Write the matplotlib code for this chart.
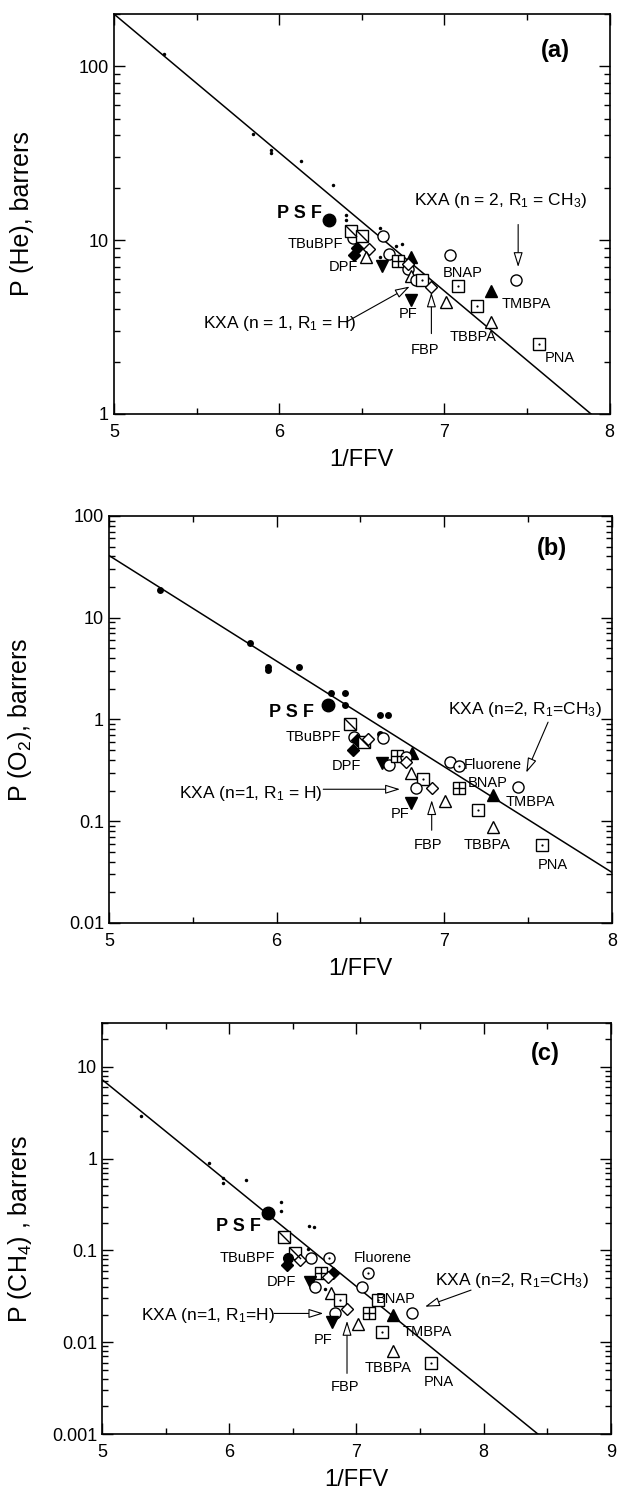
import numpy as np
import matplotlib
matplotlib.use("Agg")
import matplotlib.pyplot as plt
from matplotlib.path import Path
from matplotlib.ticker import MultipleLocator, LogLocator, FuncFormatter, NullFormatter

plt.rcParams['font.family'] = ['Liberation Sans', 'DejaVu Sans']
plt.rcParams['mathtext.default'] = 'regular'

# ---------------- data ----------------
# panel (a): He
he_x = [5.305, 5.842, 5.95, 5.95, 6.134, 6.327, 6.403, 6.403, 6.613, 6.706, 6.742, 6.61,
        6.303, 6.445, 6.432, 6.504, 6.468, 6.451, 6.544, 6.523, 6.63, 6.666, 6.623, 6.718,
        6.80, 6.778, 6.778, 6.80, 6.826, 6.862, 6.921, 6.80, 7.01, 7.036, 7.083, 7.20,
        7.282, 7.43, 7.282, 7.573]
he_y = [117, 40.9, 32.8, 31.7, 28.6, 20.8, 13.9, 13.1, 11.7, 9.28, 9.45, 8.0,
        13.1, 10.3, 11.3, 10.6, 9.0, 8.25, 8.9, 7.96, 10.5, 8.3, 7.13, 7.55,
        7.96, 6.8, 7.3, 6.25, 5.86, 5.9, 5.41, 4.54, 4.4, 8.2, 5.43, 4.16,
        5.13, 5.93, 3.39, 2.52]
he_kind = ['dot'] * 12 + ['big', 'circ', 'sqd', 'sqd', 'dfill', 'dfill', 'dopen', 'tri',
           'circ', 'circ', 'tdown', 'sqp', 'tup', 'circ', 'dopen', 'tri', 'circ', 'sqdot',
           'dopen', 'tdown', 'tri', 'circ', 'sqdot', 'sqdot', 'tup', 'circ', 'tri', 'sqdot']
he_fit = [2.301, -0.797]  # log10 P = a + b*(x-5)

# panel (b): O2
o2_x = [5.306, 5.842, 5.951, 5.951, 6.132, 6.325, 6.409, 6.409, 6.619, 6.666, 6.619,
        6.308, 6.435, 6.461, 6.478, 6.454, 6.52, 6.545, 6.635, 6.626, 6.673, 6.72,
        6.807, 6.77, 6.772, 6.80, 6.871, 6.833, 6.925, 6.80, 7.007, 7.035, 7.09,
        7.09, 7.289, 7.437, 7.202, 7.289, 7.584]
o2_y = [18.7, 5.6, 3.3, 3.08, 3.3, 1.8, 1.8, 1.39, 1.1, 1.1, 0.72,
        1.39, 0.91, 0.67, 0.63, 0.50, 0.6, 0.64, 0.66, 0.37, 0.36, 0.44,
        0.467, 0.43, 0.38, 0.30, 0.26, 0.21, 0.21, 0.152, 0.159, 0.38, 0.345,
        0.21, 0.18, 0.215, 0.13, 0.088, 0.059]
o2_kind = ['dot'] * 11 + ['big', 'sqd', 'circ', 'dfill', 'dfill', 'sqd', 'dopen', 'circ',
           'tdown', 'circ', 'sqp', 'tup', 'circ', 'dopen', 'tri', 'sqdot', 'circ', 'dopen',
           'tdown', 'tri', 'circ', 'circdot', 'sqp', 'tup', 'circ', 'sqdot', 'tri', 'sqdot']
o2_fit = [1.611, -1.038]

# panel (c): CH4
ch4_x = [5.307, 5.842, 5.95, 5.95, 6.133, 6.406, 6.406, 6.625, 6.669, 6.62, 6.755,
         6.307, 6.43, 6.517, 6.461, 6.455, 6.554, 6.641, 6.786, 6.718, 6.817, 6.777,
         6.638, 6.672, 6.802, 6.87, 6.833, 6.926, 6.811, 7.012, 7.09, 7.043, 7.173,
         7.096, 7.291, 7.437, 7.198, 7.291, 7.585]
ch4_y = [2.92, 0.90, 0.61, 0.54, 0.58, 0.34, 0.27, 0.187, 0.178, 0.105, 0.0376,
         0.253, 0.139, 0.095, 0.082, 0.070, 0.0785, 0.082, 0.083, 0.057, 0.0575, 0.051,
         0.0456, 0.0395, 0.034, 0.029, 0.021, 0.0228, 0.0167, 0.016, 0.057, 0.0395, 0.0288,
         0.021, 0.0198, 0.021, 0.0128, 0.008, 0.0059]
ch4_kind = ['dot'] * 11 + ['big', 'sqd', 'sqd', 'fcirc', 'dfill', 'dopen', 'circ', 'circdot',
            'sqp', 'dfill', 'dopen', 'tdown', 'circ', 'tri', 'sqdot', 'circ', 'dopen', 'tdown',
            'tri', 'circdot', 'circ', 'sqdot', 'sqp', 'tup', 'circ', 'sqdot', 'tri', 'sqdot']
ch4_fit = [0.862, -1.127]

# polymer labels: (text, x, y)
he_labels = [("TBuBPF", 6.217, 9.48), ("DPF", 6.389, 6.98), ("PF", 6.783, 3.78),
             ("FBP", 6.885, 2.33), ("BNAP", 7.112, 6.46), ("TMBPA", 7.494, 4.31),
             ("TBBPA", 7.174, 2.78), ("PNA", 7.697, 2.09)]
o2_labels = [("TBuBPF", 6.219, 0.673), ("DPF", 6.419, 0.345), ("PF", 6.736, 0.119),
             ("FBP", 6.901, 0.0587), ("Fluorene", 7.289, 0.358), ("BNAP", 7.259, 0.24),
             ("TMBPA", 7.513, 0.155), ("TBBPA", 7.254, 0.0587), ("PNA", 7.649, 0.0375)]
ch4_labels = [("TBuBPF", 6.146, 0.0818), ("DPF", 6.409, 0.0456), ("PF", 6.74, 0.0106),
              ("FBP", 6.91, 0.00327), ("Fluorene", 7.204, 0.0832), ("BNAP", 7.307, 0.0295),
              ("TMBPA", 7.554, 0.013), ("TBBPA", 7.251, 0.00519), ("PNA", 7.647, 0.00372)]
# KXA labels: (text, x, y)
he_kxa = [("KXA (n = 2, R$_1$ = CH$_3$)", 7.339, 16.8), ("KXA (n = 1, R$_1$ = H)", 6.0, 3.31)]
o2_kxa = [("KXA (n=2, R$_1$=CH$_3$)", 7.478, 1.26), ("KXA (n=1, R$_1$ = H)", 5.847, 0.188)]
ch4_kxa = [("KXA (n=2, R$_1$=CH$_3$)", 8.226, 0.0475), ("KXA (n=1, R$_1$=H)", 5.836, 0.0198)]
psf_label = [(6.12, 14.2), (6.089, 1.16), (6.074, 0.184)]

# arrows: (tail x, tail y, head x, head y)
he_arrows = [(7.446, 12.3, 7.446, 7.0), (6.408, 3.39, 6.79, 5.41), (6.921, 2.9, 6.921, 5.0)]
o2_arrows = [(7.619, 0.94, 7.489, 0.30), (6.278, 0.206, 6.736, 0.206), (6.925, 0.0815, 6.925, 0.161)]
ch4_arrows = [(7.901, 0.037, 7.539, 0.0244), (6.353, 0.0206, 6.74, 0.0206), (6.926, 0.00458, 6.926, 0.0171)]

# ---------------- styles ----------------
diag = Path([(-1, 1), (1, -1)], [Path.MOVETO, Path.LINETO])
plus = Path([(-1, 0), (1, 0), (0, -1), (0, 1)], [Path.MOVETO, Path.LINETO, Path.MOVETO, Path.LINETO])

styles = {
    'big':   dict(marker='o', ms=9, mfc='k', mec='k'),
    'fcirc': dict(marker='o', ms=7, mfc='k', mec='k'),
    'circ':  dict(marker='o', ms=8, mfc='white', mec='k'),
    'circdot': dict(marker='o', ms=8, mfc='white', mec='k'),
    'sqdot': dict(marker='s', ms=8, mfc='white', mec='k'),
    'sqd':   dict(marker='s', ms=8, mfc='white', mec='k'),
    'sqp':   dict(marker='s', ms=8, mfc='white', mec='k'),
    'tri':   dict(marker='^', ms=8.5, mfc='white', mec='k'),
    'tup':   dict(marker='^', ms=8.5, mfc='k', mec='k'),
    'tdown': dict(marker='v', ms=8.5, mfc='k', mec='k'),
    'dopen': dict(marker='D', ms=6.5, mfc='white', mec='k'),
    'dfill': dict(marker='D', ms=6.5, mfc='k', mec='k'),
}


def draw_points(ax, xs, ys, kinds, dot_ms):
    for x, y, k in zip(xs, ys, kinds):
        if k == 'dot':
            ax.plot(x, y, 'o', ms=dot_ms, mfc='k', mec='k', mew=0, zorder=3)
            continue
        ax.plot(x, y, ls='none', mew=1.0, zorder=3, **styles[k])
        if k in ('circdot', 'sqdot'):
            ax.plot(x, y, 'o', ms=1.6, mfc='k', mec='k', mew=0, zorder=4)
        elif k == 'sqd':
            ax.plot(x, y, marker=diag, ms=8, mfc='none', mec='k', mew=1.0, zorder=4)
        elif k == 'sqp':
            ax.plot(x, y, marker=plus, ms=8, mfc='none', mec='k', mew=1.0, zorder=4)


def draw_panel(ax, xs, ys, kinds, fit, labels, kxa, psf, arrows, xlim, ylim,
               ylabel, labx, tag, tagpos, dot_ms):
    xl = np.linspace(xlim[0], xlim[1], 200)
    ax.plot(xl, 10 ** (fit[0] + fit[1] * (xl - 5)), color='k', lw=1.1, zorder=2)
    draw_points(ax, xs, ys, kinds, dot_ms)
    for txt, x, y in labels:
        ax.text(x, y, txt, ha='center', va='center', fontsize=10.5)
    for txt, x, y in kxa:
        ax.text(x, y, txt, ha='center', va='center', fontsize=12.5)
    ax.text(psf[0], psf[1], "P S F", ha='center', va='center', fontsize=13, fontweight='bold')
    for tx, ty, hx, hy in arrows:
        ax.annotate('', xy=(hx, hy), xytext=(tx, ty),
                    arrowprops=dict(arrowstyle='-|>,head_length=0.9,head_width=0.28',
                                    fc='white', ec='k', lw=0.8, shrinkA=0, shrinkB=0))
    ax.text(tagpos[0], tagpos[1], tag, transform=ax.transAxes, ha='center', va='center',
            fontsize=17, fontweight='bold')
    ax.set_yscale('log')
    ax.set_xlim(*xlim)
    ax.set_ylim(*ylim)
    ax.xaxis.set_major_locator(MultipleLocator(1))
    ax.xaxis.set_minor_locator(MultipleLocator(0.5))
    ax.yaxis.set_major_locator(LogLocator(base=10))
    ax.yaxis.set_minor_locator(LogLocator(base=10, subs=np.arange(2, 10)))
    ax.yaxis.set_major_formatter(FuncFormatter(lambda v, p: '%g' % v))
    ax.yaxis.set_minor_formatter(NullFormatter())
    ax.tick_params(which='both', direction='in', top=True, right=True, labelsize=13, width=1.0)
    ax.tick_params(which='major', length=8)
    ax.tick_params(which='minor', length=4)
    ax.tick_params(axis='x', pad=7)
    for s in ax.spines.values():
        s.set_linewidth(1.2)
    ax.set_xlabel('1/FFV', fontsize=17, labelpad=6)
    ax.set_ylabel(ylabel, fontsize=18)
    ax.yaxis.set_label_coords(labx, 0.5)


fig = plt.figure(figsize=(6.19, 15.01), dpi=100)
ax1 = fig.add_axes([0.184, 0.7242, 0.801, 0.2665])
ax2 = fig.add_axes([0.176, 0.3851, 0.8126, 0.2712])
ax3 = fig.add_axes([0.1648, 0.0446, 0.822, 0.2738])

draw_panel(ax1, he_x, he_y, he_kind, he_fit, he_labels, he_kxa, psf_label[0], he_arrows,
           (5, 8), (1, 200), 'P (He), barrers', -0.161, '(a)', (0.891, 0.909), 2.5)
draw_panel(ax2, o2_x, o2_y, o2_kind, o2_fit, o2_labels, o2_kxa, psf_label[1], o2_arrows,
           (5, 8), (0.01, 100), 'P (O$_2$), barrers', -0.149, '(b)', (0.881, 0.921), 5)
draw_panel(ax3, ch4_x, ch4_y, ch4_kind, ch4_fit, ch4_labels, ch4_kxa, psf_label[2], ch4_arrows,
           (5, 9), (0.001, 30), 'P (CH$_4$) , barrers', -0.134, '(c)', (0.872, 0.926), 2.5)

fig.savefig('out.png', dpi=100)
